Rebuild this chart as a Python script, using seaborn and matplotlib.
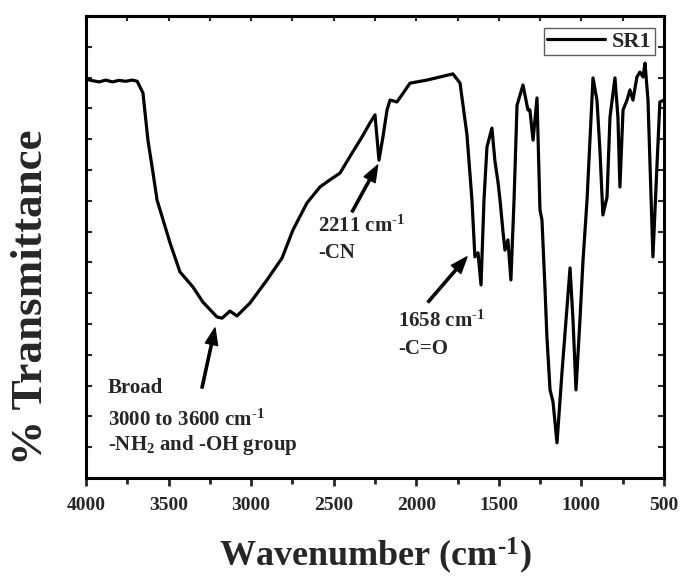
import numpy as np
import pandas as pd
import seaborn as sns
import matplotlib
matplotlib.use("Agg")
import matplotlib.pyplot as plt
from matplotlib.ticker import MultipleLocator

# ---- data ----
wavenumber = [4000, 3960, 3920, 3880, 3840, 3800, 3760, 3720, 3690, 3655, 3625, 3594, 3570,
              3491, 3431, 3352, 3292, 3207, 3176, 3128, 3086, 3007, 2904, 2813, 2747, 2662,
              2583, 2523, 2462, 2389, 2329, 2280, 2250, 2226,
              2202, 2177, 2159, 2117, 2087, 2038, 1935, 1857, 1778, 1735, 1693, 1663, 1645, 1626, 1608,
              1590, 1572, 1542, 1524, 1505, 1493, 1475, 1463, 1445, 1427, 1408, 1390, 1354,
              1324, 1312, 1293, 1269, 1251, 1239, 1221, 1209, 1190, 1172, 1148, 1118,
              1069, 1051, 1033, 1009, 991, 966, 930, 906, 888, 870, 845, 827, 797, 779,
              767, 748, 724, 706, 688, 664, 646, 627, 615, 597, 567, 543, 525, 500]
transmittance = [12.95, 12.90, 12.86, 12.92, 12.86, 12.91, 12.88, 12.92, 12.88, 12.50, 10.97, 9.90, 9.03,
                 7.63, 6.69, 6.20, 5.71, 5.23, 5.19, 5.42, 5.26, 5.68, 6.43, 7.14, 8.05, 8.93,
                 9.45, 9.68, 9.90, 10.55, 11.07, 11.53, 11.79, 10.32,
                 11.07, 11.95, 12.27, 12.21, 12.44, 12.82, 12.92, 13.02, 13.12, 12.82, 11.14, 9.03, 7.18, 7.31, 6.27,
                 9.03, 10.75, 11.36, 10.30, 9.60, 9.03, 8.00, 7.40, 7.73, 6.43, 9.03, 12.10, 12.76,
                 11.95, 11.95, 10.97, 12.34, 8.70, 8.38, 6.20, 4.58, 2.86, 2.47, 1.14, 3.41,
                 6.82, 5.13, 2.86, 5.13, 7.01, 9.03, 12.99, 12.27, 10.65, 8.54, 9.12, 11.72, 12.99, 11.72,
                 9.45, 11.95, 12.27, 12.60, 12.27, 13.02, 13.18, 13.02, 13.47, 12.27, 7.18, 10.10, 12.21, 12.27]
series_name = "SR1"
x_ticks = [4000, 3500, 3000, 2500, 2000, 1500, 1000, 500]

df = pd.DataFrame({"Wavenumber": wavenumber, "T": transmittance, "Sample": series_name})

sns.set_style("ticks")
plt.rcParams["font.family"] = ["Liberation Serif", "DejaVu Serif"]
plt.rcParams["font.weight"] = "bold"
plt.rcParams["mathtext.fontset"] = "custom"
plt.rcParams["mathtext.rm"] = "Liberation Serif:bold"
plt.rcParams["mathtext.it"] = "Liberation Serif:bold"
plt.rcParams["mathtext.bf"] = "Liberation Serif:bold"
plt.rcParams["mathtext.default"] = "rm"

fig = plt.figure(figsize=(6.83, 5.78), dpi=100)
ax = fig.add_axes([86 / 683, 100 / 578, 578 / 683, 462 / 578])

sns.lineplot(data=df, x="Wavenumber", y="T", hue="Sample", palette=["black"],
             sort=False, estimator=None, linewidth=2.3, ax=ax)
ax.lines[0].set_solid_joinstyle("round")

ax.set_xlim(4000, 500)
ax.set_ylim(0, 15)
for s in ax.spines.values():
    s.set_linewidth(2.2)
    s.set_color("black")

ax.set_xticks(x_ticks)
ax.set_xticklabels([str(t) for t in x_ticks], fontsize=14, fontweight="bold")
ax.xaxis.set_minor_locator(MultipleLocator(250))
ax.tick_params(axis="x", which="major", direction="out", length=6, width=2, top=False, pad=8)
ax.tick_params(axis="x", which="minor", direction="out", length=4, width=2, top=False)
ax.yaxis.set_major_locator(MultipleLocator(1))
ax.tick_params(axis="y", which="major", direction="in", length=4, width=1.5,
               left=True, right=True, labelleft=False, labelright=False)

top = ax.secondary_xaxis("top")
top.set_xticks(np.arange(500, 4001, 250))
top.tick_params(axis="x", direction="in", length=3.5, width=1.5, labeltop=False)
top.spines["top"].set_linewidth(2.2)

ax.set_xlabel("Wavenumber (cm$^{\u20101}$)", fontsize=26, fontweight="bold", labelpad=15)
ax.set_ylabel("% Transmittance", fontsize=32.5, fontweight="bold")
ax.yaxis.set_label_coords(-0.060, 0.392)

leg = ax.legend(loc="upper right", bbox_to_anchor=(0.984, 0.974), frameon=True, fancybox=False,
                prop={"family": "Liberation Serif", "weight": "bold", "size": 16},
                handlelength=2.6, handletextpad=0.3, borderpad=0.15, borderaxespad=0)
leg.get_frame().set_edgecolor("#333333")
leg.get_frame().set_linewidth(1.0)
for ln in leg.get_lines():
    ln.set_linewidth(2.3)

arrow = dict(facecolor="black", edgecolor="black", width=1.6, headwidth=9, headlength=12, shrink=0)
ax.annotate("", xy=(2234, 10.16), xytext=(2389, 8.64), arrowprops=arrow)
ax.annotate("", xy=(1693, 7.18), xytext=(1929, 5.71), arrowprops=arrow)
ax.annotate("", xy=(3219, 4.87), xytext=(3298, 2.92), arrowprops=arrow)

tk = dict(fontsize=15, fontweight="bold", va="baseline", ha="left")
ax.text(2595, 7.99, "2211 cm$^{\u20101}$", **tk)
ax.text(2595, 7.14, "-CN", **tk)
ax.text(2111, 4.90, "1658 cm$^{\u20101}$", **tk)
ax.text(2111, 4.03, "-C=O", **tk)
ax.text(3867, 2.76, "Broad", **tk)
ax.text(3867, 1.69, "3000 to 3600 cm$^{\u20101}$", **tk)
ax.text(3867, 0.91, "-NH$_2$ and -OH group", **tk)

fig.savefig("out.png", dpi=100)
